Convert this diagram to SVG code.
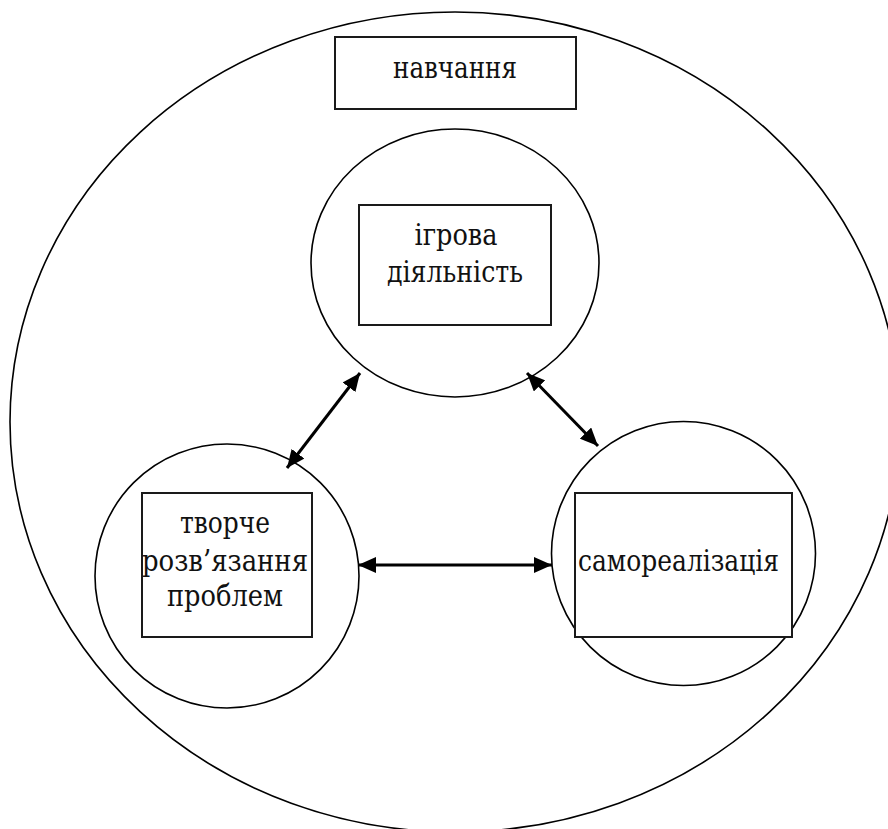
<svg xmlns="http://www.w3.org/2000/svg" width="888" height="829" viewBox="0 0 888 829">
<style>
.c{fill:none;stroke:#000;stroke-width:1.6}
.b{fill:#fff;stroke:#1a1a1a;stroke-width:2}
.t{font-family:"DejaVu Serif",serif;font-size:30px;fill:#111;text-anchor:middle}
.a{stroke:#000;stroke-width:3;fill:none;marker-start:url(#h);marker-end:url(#h)}
</style>
<defs>
<marker id="h" markerUnits="userSpaceOnUse" markerWidth="20" markerHeight="16" refX="18" refY="8" orient="auto-start-reverse">
<path d="M0,0 L18,8 L0,16 Z" fill="#000"/>
</marker>
</defs>
<g id="outer"><ellipse class="c" cx="455" cy="422" rx="445" ry="410"/></g>
<g id="navchannya"><rect class="b" x="335" y="37" width="241" height="72"/><text class="t" x="455" y="78" textLength="124" lengthAdjust="spacingAndGlyphs">навчання</text></g>
<g id="igrova"><ellipse class="c" cx="455" cy="263" rx="144" ry="134"/><rect class="b" x="359" y="205" width="192" height="120"/><text class="t" x="456" y="245" textLength="83" lengthAdjust="spacingAndGlyphs">ігрова</text><text class="t" x="455" y="282" textLength="136" lengthAdjust="spacingAndGlyphs">діяльність</text></g>
<g id="tvorche"><circle class="c" cx="227" cy="576" r="132"/><rect class="b" x="142" y="493" width="170" height="144"/><text class="t" x="225" y="533" textLength="90" lengthAdjust="spacingAndGlyphs">творче</text><text class="t" x="225" y="571" textLength="166" lengthAdjust="spacingAndGlyphs">розв’язання</text><text class="t" x="225" y="606" textLength="116" lengthAdjust="spacingAndGlyphs">проблем</text></g>
<g id="samorealizatsiya"><circle class="c" cx="683.5" cy="553.5" r="132"/><rect class="b" x="575" y="493" width="217" height="144"/><text class="t" x="678.5" y="571" textLength="201" lengthAdjust="spacingAndGlyphs">самореалізація</text></g>
<g id="connectors">
<line class="a" x1="360" y1="373" x2="287" y2="468"/>
<line class="a" x1="527" y1="373" x2="598" y2="446"/>
<line class="a" x1="358" y1="565" x2="552" y2="565"/>
</g>
</svg>
